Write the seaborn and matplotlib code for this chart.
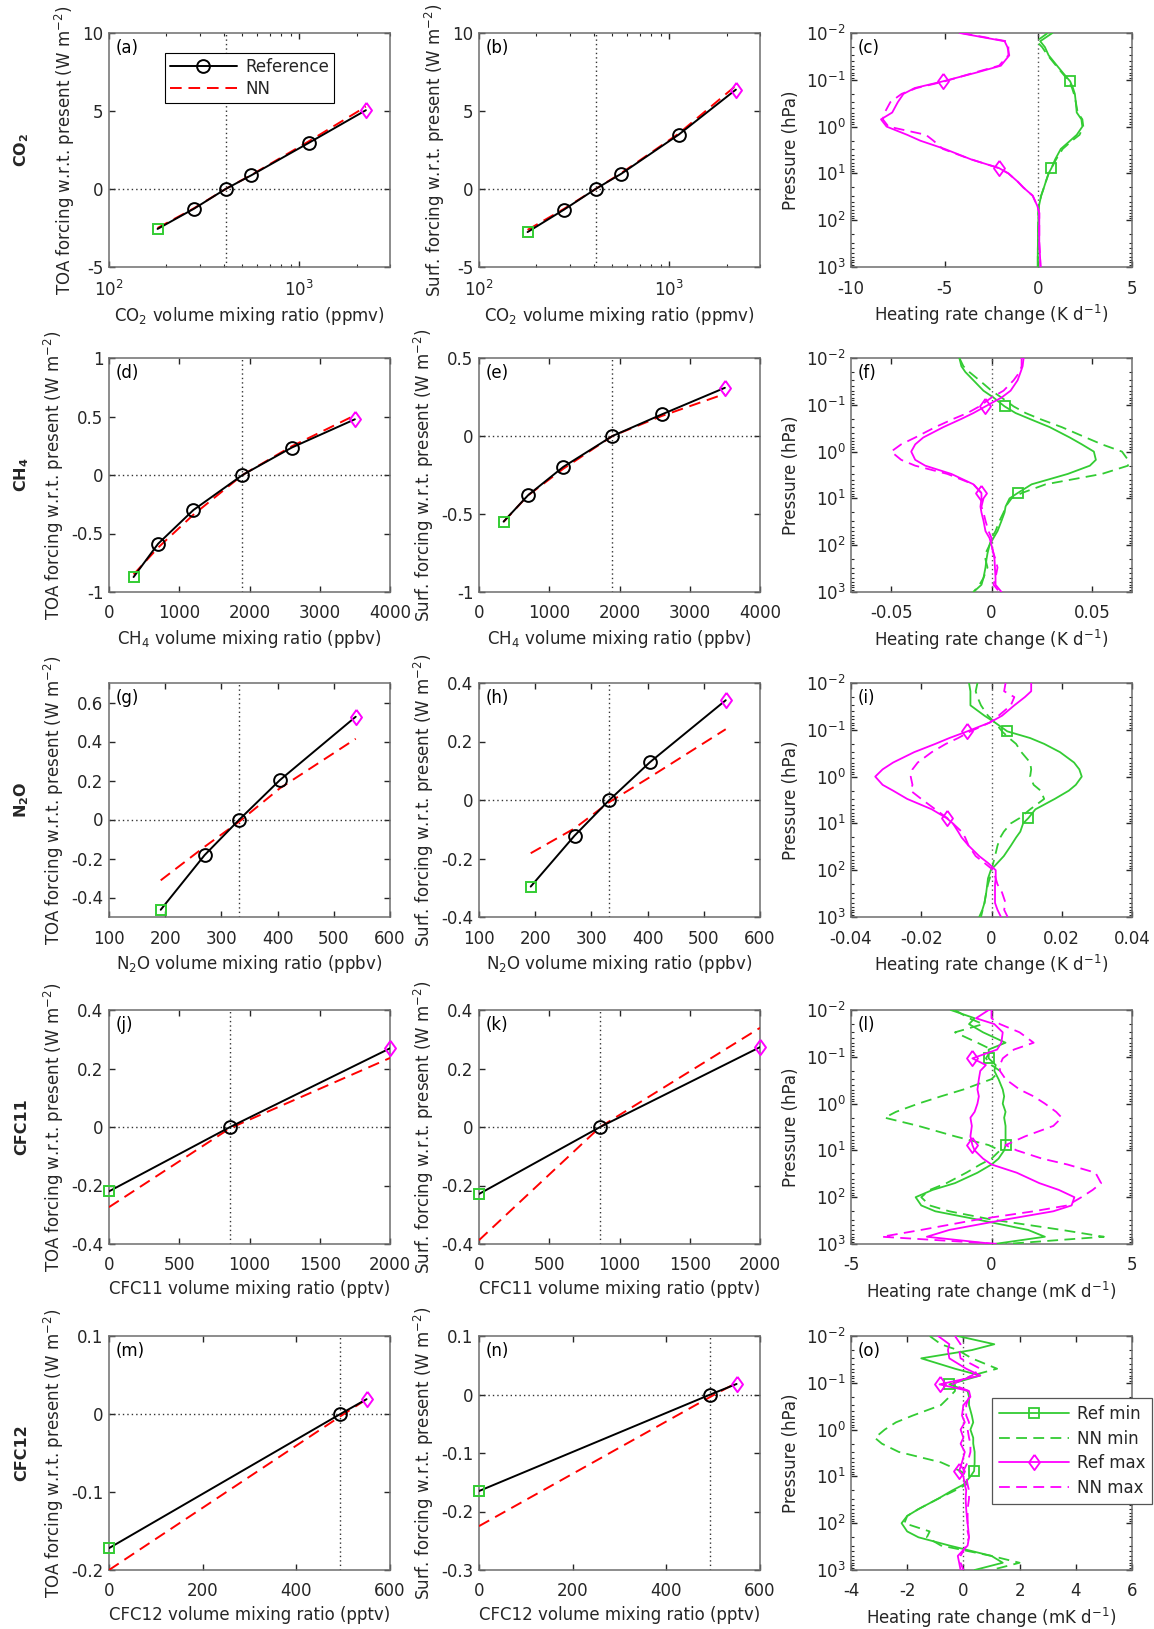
import numpy as np
import pandas as pd
import matplotlib
matplotlib.use("Agg")
import matplotlib.pyplot as plt
import seaborn as sns
from matplotlib.lines import Line2D
from matplotlib.ticker import FuncFormatter, NullFormatter, LogLocator, FixedLocator

# ---------------- forcing data (Reference vs NN) ----------------
co2_conc = [180, 280, 410, 560, 1120, 2240]
co2_toa_ref = [-2.56, -1.26, 0.0, 0.88, 2.95, 5.05]
co2_toa_nn = [-2.50, -1.23, 0.0, 0.90, 3.05, 5.28]
co2_srf_ref = [-2.76, -1.32, 0.0, 0.98, 3.48, 6.37]
co2_srf_nn = [-2.62, -1.27, 0.0, 1.02, 3.55, 6.62]
co2_present = 410

ch4_conc = [350, 700, 1200, 1900, 2600, 3500]
ch4_toa_ref = [-0.872, -0.587, -0.300, 0.0, 0.234, 0.476]
ch4_toa_nn = [-0.850, -0.620, -0.340, 0.0, 0.245, 0.510]
ch4_srf_ref = [-0.549, -0.379, -0.198, 0.0, 0.138, 0.309]
ch4_srf_nn = [-0.550, -0.380, -0.210, 0.0, 0.128, 0.270]
ch4_present = 1900

n2o_conc = [192, 270, 332, 404, 539]
n2o_toa_ref = [-0.463, -0.183, 0.0, 0.202, 0.527]
n2o_toa_nn = [-0.312, -0.140, -0.010, 0.160, 0.414]
n2o_srf_ref = [-0.296, -0.122, 0.0, 0.129, 0.341]
n2o_srf_nn = [-0.182, -0.097, -0.007, 0.078, 0.242]
n2o_present = 332

cfc11_conc = [0, 862, 2000]
cfc11_toa_ref = [-0.220, 0.0, 0.269]
cfc11_toa_nn = [-0.274, -0.004, 0.236]
cfc11_srf_ref = [-0.229, 0.0, 0.273]
cfc11_srf_nn = [-0.387, 0.0, 0.339]
cfc11_present = 862

cfc12_conc = [0, 494, 550]
cfc12_toa_ref = [-0.172, 0.0, 0.019]
cfc12_toa_nn = [-0.200, -0.003, 0.019]
cfc12_srf_ref = [-0.165, 0.0, 0.018]
cfc12_srf_nn = [-0.225, -0.004, 0.020]
cfc12_present = 494

# ---------------- heating-rate profiles ----------------
plev = [0.01, 0.015, 0.02, 0.03, 0.05, 0.07, 0.108, 0.15, 0.2, 0.3, 0.5, 0.7, 1.0, 1.5, 2,
        3, 5, 7.7, 10, 15, 20, 30, 50, 70, 100, 150, 200, 300, 500, 700, 1000]
mark_idx = [6, 17]

co2_hr_refmin = [0.75, 0.1, 0.35, 0.55, 1.0, 1.3, 1.7, 1.85, 1.95, 2.0, 2.05, 2.3, 2.35, 2.05, 1.7,
                 1.2, 0.9, 0.7, 0.55, 0.4, 0.3, 0.15, 0.03, 0.0, 0.0, -0.01, -0.02, -0.02, -0.03, -0.03, -0.03]
co2_hr_nnmin = [0.5, -0.1, 0.2, 0.5, 0.95, 1.25, 1.65, 1.8, 1.9, 2.0, 2.1, 2.35, 2.4, 2.2, 1.8,
                1.3, 0.95, 0.7, 0.55, 0.4, 0.3, 0.15, 0.03, 0.0, 0.0, -0.01, -0.02, -0.02, -0.03, -0.03, -0.03]
co2_hr_refmax = [-4.2, -1.8, -1.65, -1.55, -2.0, -3.3, -5.1, -6.6, -7.2, -7.5, -7.8, -8.4, -8.1, -7.0, -6.3,
                 -5.0, -3.6, -2.1, -1.6, -1.1, -0.8, -0.3, -0.05, 0.05, 0.05, 0.05, 0.05, 0.05, 0.08, 0.1, 0.12]
co2_hr_nnmax = [-4.1, -1.7, -1.6, -1.6, -2.1, -3.4, -5.0, -6.5, -7.3, -7.9, -8.2, -8.3, -8.0, -6.0, -5.6,
                -5.1, -3.6, -2.1, -1.6, -1.1, -0.8, -0.3, -0.05, 0.05, 0.05, 0.05, 0.05, 0.05, 0.08, 0.1, 0.12]

ch4_hr_refmin = [-0.016, -0.015, -0.013, -0.009, -0.004, 0.001, 0.0065, 0.012, 0.019, 0.029, 0.039, 0.045,
                 0.051, 0.052, 0.049, 0.038, 0.02, 0.013, 0.009, 0.007, 0.0065, 0.005, 0.003, 0.001, -0.001,
                 -0.002, -0.0025, -0.003, -0.004, -0.005, -0.009]
ch4_hr_nnmin = [-0.016, -0.014, -0.011, -0.006, 0.0, 0.005, 0.011, 0.017, 0.024, 0.035, 0.047, 0.055,
                0.065, 0.068, 0.068, 0.055, 0.027, 0.015, 0.01, 0.007, 0.006, 0.004, 0.002, 0.0, -0.001,
                -0.003, -0.003, -0.002, -0.004, -0.006, -0.009]
ch4_hr_refmax = [0.016, 0.0155, 0.0145, 0.013, 0.0095, 0.005, -0.003, -0.009, -0.015, -0.024, -0.034, -0.038,
                 -0.040, -0.038, -0.033, -0.02, -0.009, -0.005, -0.005, -0.0055, -0.005, -0.004, -0.003, -0.001,
                 0.0, 0.001, 0.0015, 0.0017, 0.002, 0.002, 0.005]
ch4_hr_nnmax = [0.015, 0.015, 0.014, 0.011, 0.006, 0.0, -0.006, -0.012, -0.019, -0.028, -0.038, -0.045,
                -0.05, -0.045, -0.038, -0.022, -0.009, -0.005, -0.004, -0.005, -0.004, -0.003, -0.0015, 0.0,
                0.0, 0.001, 0.002, 0.003, 0.002, 0.001, 0.004]

n2o_hr_refmin = [-0.0064, -0.006, -0.006, -0.006, -0.002, 0.001, 0.0045, 0.011, 0.015, 0.0195, 0.0235, 0.025,
                 0.0257, 0.024, 0.022, 0.018, 0.0125, 0.0105, 0.009, 0.0082, 0.007, 0.0055, 0.0035, 0.0017,
                 -0.0002, -0.001, -0.0012, -0.0015, -0.002, -0.0026, -0.0035]
n2o_hr_nnmin = [-0.004, -0.0045, -0.004, -0.003, -0.001, 0.001, 0.003, 0.005, 0.007, 0.0085, 0.011, 0.0113,
                0.011, 0.012, 0.014, 0.015, 0.011, 0.008, 0.0055, 0.0035, 0.0025, 0.0017, 0.001, 0.0005,
                0.0, -0.0005, -0.001, -0.0015, -0.002, -0.0025, -0.003]
n2o_hr_refmax = [0.0113, 0.0113, 0.0095, 0.0065, 0.003, -0.0005, -0.0069, -0.012, -0.016, -0.022, -0.028, -0.031,
                 -0.0331, -0.031, -0.028, -0.024, -0.017, -0.0128, -0.011, -0.0095, -0.0085, -0.0065, -0.0035,
                 -0.001, 0.0012, 0.0012, 0.001, 0.001, 0.001, 0.0017, 0.0027]
n2o_hr_nnmax = [0.004, 0.0036, 0.0065, 0.0055, 0.002, -0.0005, -0.006, -0.0095, -0.013, -0.017, -0.021, -0.0225,
                -0.023, -0.0225, -0.023, -0.02, -0.016, -0.0126, -0.011, -0.0085, -0.0075, -0.0065, -0.0045,
                -0.002, 0.0005, 0.0012, 0.0017, 0.003, 0.004, 0.0036, 0.0046]

cfc11_hr_refmin = [-1.45, -0.6, -0.8, -0.3, 0.5, -0.1, -0.1, 0.15, 0.1, 0.25, 0.4, 0.45, 0.4, 0.5, 0.45,
                   0.5, 0.5, 0.5, 0.45, 0.25, 0.0, -0.5, -1.3, -2.1, -2.7, -2.5, -2.0, -0.5, 1.3, 1.9, 0.1]
cfc11_hr_nnmin = [-1.3, -0.8, -0.3, -1.3, -0.5, 0.0, -0.2, 0.0, 0.3, 0.0, -1.0, -1.8, -2.6, -3.4, -3.8,
                  -2.6, -1.3, -0.1, 0.3, 0.0, -0.4, -0.9, -1.6, -2.2, -2.5, -2.2, -1.5, 0.0, 2.5, 4.0, 0.5]
cfc11_hr_refmax = [-0.1, -0.55, 0.1, 0.4, 0.35, 0.2, -0.68, -0.2, -0.4, -0.45, -0.5, -0.45, -0.5, -0.6, -0.75,
                   -0.7, -0.75, -0.68, -0.6, -0.3, 0.0, 0.9, 1.7, 2.4, 2.95, 2.85, 2.2, 0.5, -1.5, -2.3, 0.1]
cfc11_hr_nnmax = [0.0, 0.0, 0.3, 1.0, 1.5, 0.8, 0.4, 0.3, 0.3, 0.5, 1.0, 1.5, 1.9, 2.3, 2.5,
                  2.2, 1.2, 0.5, 0.9, 1.8, 2.7, 3.7, 3.9, 3.6, 3.2, 2.7, 1.5, -0.5, -2.5, -3.9, 0.3]

cfc12_hr_refmin = [-0.2, 1.1, 0.3, -1.5, -0.3, 0.6, -0.5, 0.15, 0.2, 0.2, 0.3, 0.35, 0.25, 0.35, 0.35,
                   0.4, 0.4, 0.38, 0.25, 0.0, -0.4, -0.9, -1.6, -2.0, -2.2, -2.0, -1.6, -0.5, 1.0, 1.4, 0.4]
cfc12_hr_nnmin = [-1.2, -0.8, -0.2, 0.3, 1.2, 0.3, -0.3, -0.3, -0.5, -0.8, -1.8, -2.4, -2.8, -3.15, -2.9,
                  -2.3, -0.8, -0.1, 0.15, 0.1, -0.3, -0.9, -1.6, -2.0, -2.1, -1.2, -1.3, -0.8, 1.0, 2.0, 1.0]
cfc12_hr_refmax = [-0.9, -0.5, -0.55, -0.5, 0.1, 0.6, -0.85, 0.2, 0.25, 0.0, -0.05, 0.05, -0.1, 0.0, -0.1,
                   0.05, -0.05, -0.15, 0.0, 0.05, 0.1, 0.08, 0.1, 0.12, 0.15, 0.18, 0.2, 0.15, -0.2, -0.15, -0.1]
cfc12_hr_nnmax = [-0.3, -0.1, -0.15, -0.1, 0.6, 0.3, -0.4, 0.2, 0.2, 0.1, 0.1, 0.2, 0.15, 0.2, 0.25,
                  0.25, 0.15, 0.0, 0.1, 0.15, 0.2, 0.2, 0.15, 0.15, 0.15, 0.15, 0.2, 0.1, -0.1, -0.1, 0.0]

# ---------------- style ----------------
sns.set_style("ticks")
plt.rcParams["font.family"] = ["DejaVu Sans"]
plt.rcParams["font.size"] = 12
plt.rcParams["axes.unicode_minus"] = False
plt.rcParams["mathtext.default"] = "regular"

GREEN = "#33cc33"
MAGENTA = "#ff00ff"
RED = "#ff0000"
SPINE = "#6e6e6e"
TXT = "#262626"
FS = 12
DIAMOND = [(0, 1), (0.72, 0), (0, -1), (-0.72, 0), (0, 1)]

fig = plt.figure(figsize=(11.54, 16.29), dpi=100)
W, H = 1154.0, 1629.0
col_left = [109, 479, 851]
row_top = [33, 358, 683, 1010, 1336]
aw, ah = 281, 234

axes = []
for r in range(5):
    row = []
    for c in range(3):
        ax = fig.add_axes([col_left[c] / W, 1 - (row_top[r] + ah) / H, aw / W, ah / H])
        row.append(ax)
    axes.append(row)

gfmt = FuncFormatter(lambda v, p: "%g" % v)


def style_axes(ax):
    for s in ax.spines.values():
        s.set_color(SPINE)
        s.set_linewidth(1.1)
    ax.tick_params(which="both", direction="in", top=True, right=True, colors=TXT,
                   labelsize=FS, labelcolor=TXT)
    ax.tick_params(which="major", length=4.5, width=1.0)
    ax.tick_params(which="minor", length=2.5, width=0.8)
    ax.tick_params(axis="x", which="both", pad=9)
    ax.tick_params(axis="y", which="both", pad=4)


def forcing_panel(ax, conc, ref, nn, present, logx=False):
    if logx:
        ax.set_xscale("log")
    n = len(conc)
    sns.lineplot(x=conc, y=nn, ax=ax, estimator=None, sort=False, color=RED, lw=1.4,
                 linestyle=(0, (6, 3.5)), zorder=3)
    sns.lineplot(x=conc, y=ref, ax=ax, estimator=None, sort=False, color="black", lw=1.4,
                 marker="o", markevery=list(range(1, n - 1)), ms=9.2, mfc="none", mec="black",
                 mew=1.4, zorder=4)
    sns.lineplot(x=conc, y=ref, ax=ax, estimator=None, sort=False, color=GREEN, linestyle="none",
                 marker="s", markevery=[0], ms=7.6, mfc="none", mec=GREEN, mew=1.4, zorder=5,
                 clip_on=False)
    sns.lineplot(x=conc, y=ref, ax=ax, estimator=None, sort=False, color=MAGENTA, linestyle="none",
                 marker=DIAMOND, markevery=[n - 1], ms=11, mfc="none", mec=MAGENTA, mew=1.4, zorder=5,
                 clip_on=False)
    ax.axhline(0, color="#333333", lw=1.0, linestyle=(0, (1, 2.2)), zorder=1)
    ax.axvline(present, color="#333333", lw=1.0, linestyle=(0, (1, 2.2)), zorder=1)


def profile_panel(ax, rmin, nmin, rmax, nmax):
    ax.set_yscale("log")
    sns.lineplot(x=rmin, y=plev, ax=ax, estimator=None, sort=False, color=GREEN, lw=1.3,
                 marker="s", markevery=mark_idx, ms=7.3, mfc="none", mec=GREEN, mew=1.3, zorder=3)
    sns.lineplot(x=nmin, y=plev, ax=ax, estimator=None, sort=False, color=GREEN, lw=1.3,
                 linestyle=(0, (6, 3.5)), zorder=3)
    sns.lineplot(x=rmax, y=plev, ax=ax, estimator=None, sort=False, color=MAGENTA, lw=1.3,
                 marker=DIAMOND, markevery=mark_idx, ms=11, mfc="none", mec=MAGENTA, mew=1.3, zorder=4)
    sns.lineplot(x=nmax, y=plev, ax=ax, estimator=None, sort=False, color=MAGENTA, lw=1.3,
                 linestyle=(0, (6, 3.5)), zorder=4)
    ax.axvline(0, color="#555555", lw=1.0, linestyle=(0, (1, 2.2)), zorder=1)
    ax.set_ylim(1000, 0.01)
    ax.yaxis.set_major_locator(FixedLocator([0.01, 0.1, 1, 10, 100, 1000]))
    ax.yaxis.set_minor_locator(LogLocator(base=10, subs=np.arange(2, 10), numticks=20))
    ax.yaxis.set_minor_formatter(NullFormatter())
    ax.set_ylabel("Pressure (hPa)", fontsize=FS, color=TXT)


species = [
    ("CO$_2$", co2_conc, co2_toa_ref, co2_toa_nn, co2_srf_ref, co2_srf_nn, co2_present,
     "CO$_2$ volume mixing ratio (ppmv)"),
    ("CH$_4$", ch4_conc, ch4_toa_ref, ch4_toa_nn, ch4_srf_ref, ch4_srf_nn, ch4_present,
     "CH$_4$ volume mixing ratio (ppbv)"),
    ("N$_2$O", n2o_conc, n2o_toa_ref, n2o_toa_nn, n2o_srf_ref, n2o_srf_nn, n2o_present,
     "N$_2$O volume mixing ratio (ppbv)"),
    ("CFC11", cfc11_conc, cfc11_toa_ref, cfc11_toa_nn, cfc11_srf_ref, cfc11_srf_nn, cfc11_present,
     "CFC11 volume mixing ratio (pptv)"),
    ("CFC12", cfc12_conc, cfc12_toa_ref, cfc12_toa_nn, cfc12_srf_ref, cfc12_srf_nn, cfc12_present,
     "CFC12 volume mixing ratio (pptv)"),
]
profiles = [
    (co2_hr_refmin, co2_hr_nnmin, co2_hr_refmax, co2_hr_nnmax),
    (ch4_hr_refmin, ch4_hr_nnmin, ch4_hr_refmax, ch4_hr_nnmax),
    (n2o_hr_refmin, n2o_hr_nnmin, n2o_hr_refmax, n2o_hr_nnmax),
    (cfc11_hr_refmin, cfc11_hr_nnmin, cfc11_hr_refmax, cfc11_hr_nnmax),
    (cfc12_hr_refmin, cfc12_hr_nnmin, cfc12_hr_refmax, cfc12_hr_nnmax),
]

xlims = [(100, 3000), (0, 4000), (100, 600), (0, 2000), (0, 600)]
xticks = [None, [0, 1000, 2000, 3000, 4000], [100, 200, 300, 400, 500, 600],
          [0, 500, 1000, 1500, 2000], [0, 200, 400, 600]]
toa_ylims = [(-5, 10), (-1, 1), (-0.5, 0.7), (-0.4, 0.4), (-0.2, 0.1)]
toa_yticks = [[-5, 0, 5, 10], [-1, -0.5, 0, 0.5, 1], [-0.4, -0.2, 0, 0.2, 0.4, 0.6],
              [-0.4, -0.2, 0, 0.2, 0.4], [-0.2, -0.1, 0, 0.1]]
srf_ylims = [(-5, 10), (-1, 0.5), (-0.4, 0.4), (-0.4, 0.4), (-0.3, 0.1)]
srf_yticks = [[-5, 0, 5, 10], [-1, -0.5, 0, 0.5], [-0.4, -0.2, 0, 0.2, 0.4],
              [-0.4, -0.2, 0, 0.2, 0.4], [-0.3, -0.2, -0.1, 0, 0.1]]
hr_xlims = [(-10, 5), (-0.07, 0.07), (-0.04, 0.04), (-5, 5), (-4, 6)]
hr_xticks = [[-10, -5, 0, 5], [-0.05, 0, 0.05], [-0.04, -0.02, 0, 0.02, 0.04], [-5, 0, 5],
             [-4, -2, 0, 2, 4, 6]]
hr_xlabels = ["Heating rate change (K d$^{-1}$)", "Heating rate change (K d$^{-1}$)",
              "Heating rate change (K d$^{-1}$)", "Heating rate change (mK d$^{-1}$)",
              "Heating rate change (mK d$^{-1}$)"]
letters = "abcdefghijklmno"

for r, (name, conc, tref, tnn, sref, snn, pres, xlab) in enumerate(species):
    logx = (r == 0)
    for c, (ref, nn, ylim, yt, ylab) in enumerate([
            (tref, tnn, toa_ylims[r], toa_yticks[r], "TOA forcing w.r.t. present (W m$^{-2}$)"),
            (sref, snn, srf_ylims[r], srf_yticks[r], "Surf. forcing w.r.t. present (W m$^{-2}$)")]):
        ax = axes[r][c]
        forcing_panel(ax, conc, ref, nn, pres, logx=logx)
        ax.set_xlim(*xlims[r])
        ax.set_ylim(*ylim)
        ax.set_yticks(yt)
        ax.yaxis.set_major_formatter(gfmt)
        if logx:
            ax.xaxis.set_major_locator(FixedLocator([100, 1000]))
            ax.xaxis.set_minor_locator(LogLocator(base=10, subs=np.arange(2, 10), numticks=20))
            ax.xaxis.set_minor_formatter(NullFormatter())
        else:
            ax.set_xticks(xticks[r])
            ax.xaxis.set_major_formatter(gfmt)
        ax.set_xlabel(xlab, fontsize=FS, color=TXT)
        ax.set_ylabel(ylab, fontsize=FS, color=TXT)
        style_axes(ax)

    ax = axes[r][2]
    profile_panel(ax, *profiles[r])
    ax.set_xlim(*hr_xlims[r])
    ax.set_xticks(hr_xticks[r])
    ax.xaxis.set_major_formatter(gfmt)
    ax.set_xlabel(hr_xlabels[r], fontsize=FS, color=TXT)
    style_axes(ax)

    for c in range(3):
        axes[r][c].text(0.025, 0.975, "(%s)" % letters[3 * r + c], transform=axes[r][c].transAxes,
                        ha="left", va="top", fontsize=FS, color="black")

    yc = 1 - (row_top[r] + ah / 2) / H
    fig.text(22 / W, yc, name, rotation=90, ha="center", va="center", fontsize=11.5,
             fontweight="bold", color=TXT)

# legends
h_ref = Line2D([], [], color="black", lw=1.4, marker="o", ms=9.2, mfc="none", mec="black", mew=1.4)
h_nn = Line2D([], [], color=RED, lw=1.4, linestyle=(0, (6, 3.5)))
leg = axes[0][0].legend([h_ref, h_nn], ["Reference", "NN"], loc="upper center",
                        bbox_to_anchor=(0.5, 0.915), frameon=True, fancybox=False, edgecolor="black",
                        framealpha=1, handlelength=4.0, borderpad=0.3, labelspacing=0.25,
                        handletextpad=0.5, fontsize=FS, borderaxespad=0)
leg.get_frame().set_linewidth(0.8)

h1 = Line2D([], [], color=GREEN, lw=1.3, marker="s", ms=7.3, mfc="none", mec=GREEN, mew=1.3)
h2 = Line2D([], [], color=GREEN, lw=1.3, linestyle=(0, (6, 3.5)))
h3 = Line2D([], [], color=MAGENTA, lw=1.3, marker=DIAMOND, ms=11, mfc="none", mec=MAGENTA, mew=1.3)
h4 = Line2D([], [], color=MAGENTA, lw=1.3, linestyle=(0, (6, 3.5)))
leg2 = axes[4][2].legend([h1, h2, h3, h4], ["Ref min", "NN min", "Ref max", "NN max"],
                         loc="upper left", bbox_to_anchor=(0.502, 0.734), frameon=True, fancybox=False,
                         edgecolor="#555555", framealpha=1, handlelength=4.2, borderpad=0.4,
                         labelspacing=0.4, handletextpad=0.5, fontsize=FS, borderaxespad=0)
leg2.get_frame().set_linewidth(0.9)

fig.savefig("out.png", dpi=100)
